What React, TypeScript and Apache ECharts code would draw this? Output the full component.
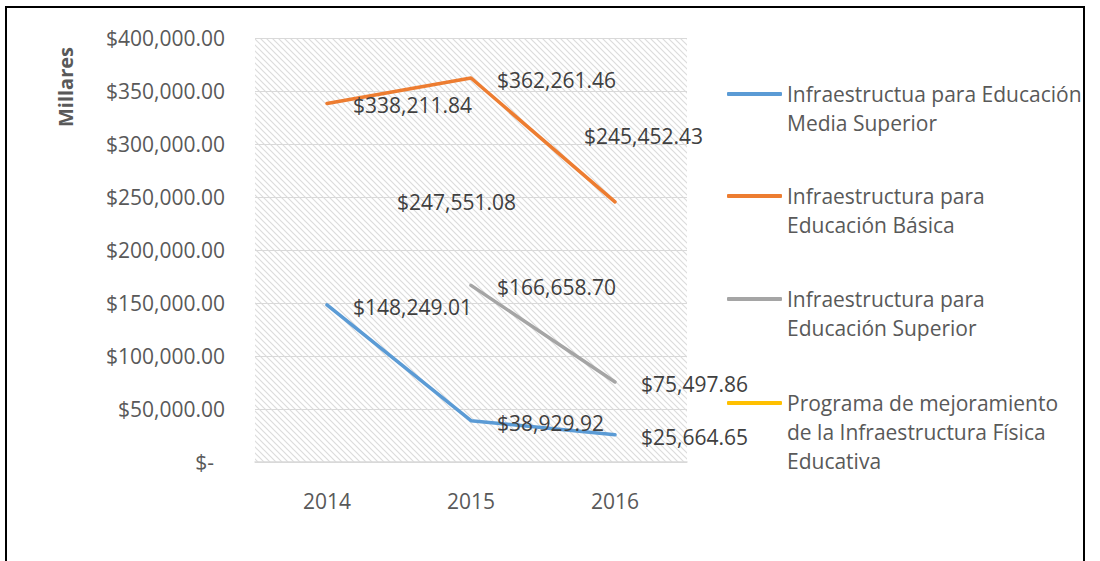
import React, { useEffect, useRef } from "react";
import * as echarts from "echarts";

const categories = ["2014", "2015", "2016"];
const seriesNames = [
  "Infraestructua para Educación Media Superior",
  "Infraestructura para Educación Básica",
  "Infraestructura para Educación Superior",
  "Programa de mejoramiento de la Infraestructura Física Educativa",
];
const legendLines = [
  ["Infraestructua para Educación", "Media Superior"],
  ["Infraestructura para", "Educación Básica"],
  ["Infraestructura para", "Educación Superior"],
  ["Programa de mejoramiento", "de la Infraestructura Física", "Educativa"],
];
const mediaSuperior = [148249.01, 38929.92, 25664.65];
const basica = [338211.84, 362261.46, 245452.43];
const superior = [null, 166658.7, 75497.86];
const programa = [null, 247551.08, null];
const yMin = 0;
const yMax = 400000;
const yStep = 50000;

const colors = ["#5B9BD5", "#ED7D31", "#A5A5A5", "#FFC000"];
// label offsets (style only)
const labelOffsets = [
  [[0, 2], [0, 2], [0, 2]],
  [[0, 2], [0, 2], [-57, -66]],
  [[0, 2], [0, 2], [0, 2]],
  [[0, 2], [-100, 2], [0, 2]],
];
const legendIconY = [94, 196, 299, 403];

const FONT = "'Open Sans', 'Noto Sans', sans-serif";
const LH = 29;

const fmtMoney = (v: number) =>
  "$" + v.toLocaleString("en-US", { minimumFractionDigits: 2, maximumFractionDigits: 2 });

export default function App() {
  const ref = useRef<HTMLDivElement>(null);
  useEffect(() => {
    if (!ref.current) return;
    const chart = echarts.init(ref.current, null, { renderer: "svg" });

    const cv = document.createElement("canvas");
    cv.width = 6;
    cv.height = 6;
    const ctx = cv.getContext("2d")!;
    ctx.fillStyle = "#ffffff";
    ctx.fillRect(0, 0, 6, 6);
    ctx.strokeStyle = "#dcdcdc";
    ctx.lineWidth = 1.2;
    for (let k = -2; k <= 2; k++) {
      ctx.beginPath();
      ctx.moveTo(k * 6 - 1, -1);
      ctx.lineTo(k * 6 + 7, 7);
      ctx.stroke();
    }

    const allData = [mediaSuperior, basica, superior, programa];

    const series = allData.map((arr, si) => ({
      name: seriesNames[si],
      type: "line",
      data: arr.map((v, i) => ({
        value: v,
        label: { offset: labelOffsets[si][i] },
      })),
      color: colors[si],
      symbol: "circle",
      symbolSize: 0,
      showSymbol: true,
      connectNulls: false,
      lineStyle: { width: 3.5, color: colors[si], cap: "round", join: "round" },
      itemStyle: { color: colors[si] },
      label: {
        show: true,
        position: "right",
        distance: 26,
        fontFamily: FONT,
        fontSize: 21,
        color: "#404040",
        formatter: (p: any) => (p.value == null ? "" : fmtMoney(p.value)),
      },
      emphasis: { disabled: true },
    }));

    const legends = seriesNames.map((name, i) => {
      const n = legendLines[i].length;
      const H = (2 * n - 1) * LH;
      const blanks = new Array(n - 1).fill("").join("\n");
      return {
        show: true,
        orient: "vertical",
        left: 727,
        top: legendIconY[i] - H / 2,
        padding: 0,
        itemWidth: 55,
        itemHeight: 4,
        icon: "roundRect",
        selectedMode: false,
        data: [name],
        formatter: () => blanks + "\n" + legendLines[i].join("\n"),
        itemStyle: { opacity: 1 },
        textStyle: {
          fontFamily: FONT,
          fontSize: 21,
          color: "#595959",
          lineHeight: LH,
        },
      };
    });

    chart.setOption({
      animation: false,
      grid: {
        left: 255,
        right: 413,
        top: 38,
        bottom: 99,
        show: true,
        borderWidth: 0,
        backgroundColor: { image: cv, repeat: "repeat" } as any,
      },
      legend: legends,
      xAxis: {
        type: "category",
        data: categories,
        boundaryGap: true,
        axisLine: { lineStyle: { color: "#D9D9D9", width: 1.5 } },
        axisTick: { show: false },
        splitLine: { show: false },
        axisLabel: { fontFamily: FONT, fontSize: 21, color: "#595959", margin: 28 },
      },
      yAxis: {
        type: "value",
        min: yMin,
        max: yMax,
        interval: yStep,
        axisLine: { show: false },
        axisTick: { show: false },
        splitLine: { lineStyle: { color: "#D9D9D9", width: 1 } },
        axisLabel: {
          fontFamily: FONT,
          fontSize: 21,
          color: "#595959",
          margin: 30,
          formatter: (v: number) => (v === 0 ? "{z|$-}" : fmtMoney(v)),
          rich: {
            z: { fontFamily: FONT, fontSize: 21, color: "#595959", padding: [0, 11, 0, 0] },
          },
        },
      },
      graphic: [
        {
          type: "text",
          x: 65,
          y: 87,
          rotation: Math.PI / 2,
          style: {
            text: "Millares",
            fontFamily: FONT,
            fontSize: 20,
            fontWeight: "bold",
            fill: "#595959",
            align: "center",
            verticalAlign: "middle",
          },
        },
      ],
      series,
    });
    return () => chart.dispose();
  }, []);

  return (
    <div style={{ position: "fixed", left: 0, top: 0, width: 1100, height: 561, background: "#fff", overflow: "hidden" }}>
      <div
        style={{
          position: "absolute",
          left: 5,
          top: 6,
          width: 1080,
          height: 600,
          border: "2px solid #000",
          boxSizing: "border-box",
        }}
      />
      <div ref={ref} style={{ position: "absolute", left: 0, top: 0, width: 1100, height: 561 }} />
    </div>
  );
}
